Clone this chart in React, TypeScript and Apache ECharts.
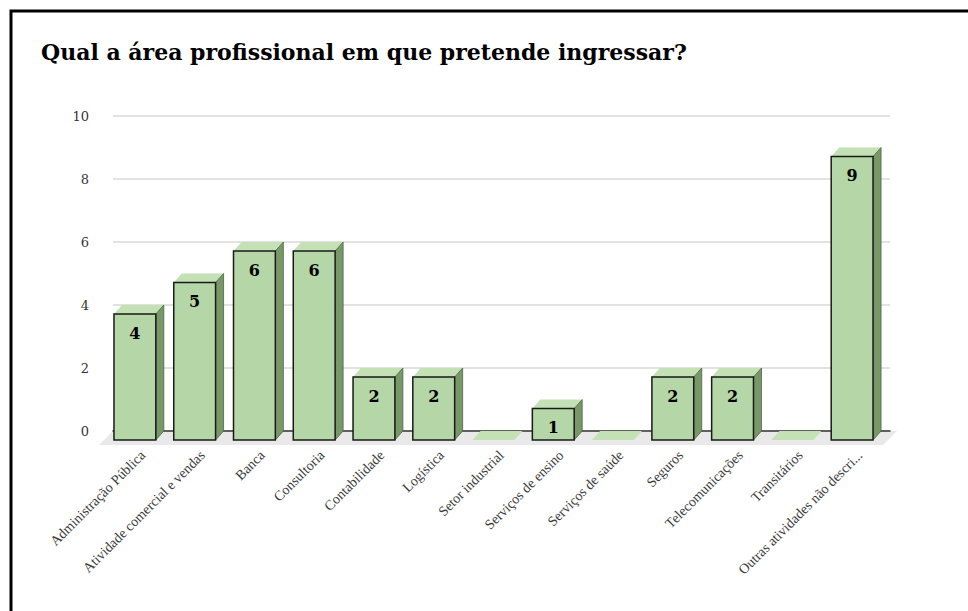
import React, { useEffect, useRef } from "react";
import * as echarts from "echarts";

const TITLE = "Qual a área profissional em que pretende ingressar?";
const categories = [
  "Administração Pública",
  "Atividade comercial e vendas",
  "Banca",
  "Consultoria",
  "Contabilidade",
  "Logística",
  "Setor industrial",
  "Serviços de ensino",
  "Serviços de saúde",
  "Seguros",
  "Telecomunicações",
  "Transitários",
  "Outras atividades não descri...",
];
const values = [4, 5, 6, 6, 2, 2, 0, 1, 0, 2, 2, 0, 9];
const yTicks = { min: 0, max: 10, interval: 2 };

const FRONT = "#b5d6a6";
const TOP = "#c4e0b5";
const SIDE = "#789868";
const SERIF = "'DejaVu Serif', Georgia, serif";
const TIMES = "'Liberation Serif', 'Times New Roman', serif";

export default function App() {
  const ref = useRef<HTMLDivElement>(null);
  useEffect(() => {
    if (!ref.current) return;
    const chart = echarts.init(ref.current, undefined, { renderer: "svg" });
    const DX = 8;
    const DY = 9;
    const option: any = {
      animation: false,
      backgroundColor: "#ffffff",
      title: {
        text: TITLE,
        left: 36,
        top: 36,
        textStyle: { fontFamily: SERIF, fontWeight: "bold", fontSize: 22, color: "#000" },
      },
      graphic: [
        {
          type: "rect",
          shape: { x: 11, y: 11, width: 1200, height: 1200 },
          style: { fill: "none", stroke: "#000", lineWidth: 3 },
          silent: true,
          z: 100,
        },
      ],
      grid: { left: 113, right: 78, top: 116, bottom: 180, containLabel: false },
      xAxis: {
        type: "category",
        data: categories,
        axisTick: { show: false },
        axisLine: { show: true, lineStyle: { color: "#333", width: 1.5 } },
        axisLabel: {
          interval: 0,
          rotate: 45,
          margin: 22,
          fontFamily: TIMES,
          fontSize: 14,
          color: "#3a3a3a",
        },
        z: 1,
      },
      yAxis: {
        type: "value",
        min: yTicks.min,
        max: yTicks.max,
        interval: yTicks.interval,
        axisLine: { show: false },
        axisTick: { show: false },
        axisLabel: { margin: 24, fontFamily: SERIF, fontSize: 13, color: "#333" },
        splitLine: { lineStyle: { color: "#d9d9d9", width: 1.5 } },
      },
      series: [
        {
          type: "custom",
          z: 0,
          silent: true,
          data: [[0, 0]],
          renderItem: (params: any, api: any) => {
            const bw = api.size([1, 0])[0];
            const p0 = api.coord([0, 0]);
            const pN = api.coord([categories.length - 1, 0]);
            const xl = p0[0] - bw / 2;
            const xr = pN[0] + bw / 2 + 7;
            const y = p0[1];
            return {
              type: "polygon",
              shape: {
                points: [
                  [xl, y],
                  [xr, y],
                  [xr - 14, y + 14],
                  [xl - 14, y + 14],
                ],
              },
              style: { fill: "#e9e9e9" },
            };
          },
        },
        {
          type: "custom",
          z: 3,
          data: values.map((v, i) => [i, v]),
          renderItem: (params: any, api: any) => {
            const i = api.value(0);
            const v = api.value(1);
            const top = api.coord([i, v]);
            const base = api.coord([i, 0]);
            const bw = api.size([1, 0])[0];
            const w = bw * 0.7;
            const cx = top[0] - DX;
            const x1 = cx - w / 2;
            const x2 = cx + w / 2;
            const fTop = top[1] + DY;
            const fBot = base[1] + DY;
            const children: any[] = [];
            children.push({
              type: "polygon",
              shape: { points: [[x1, fTop], [x1 + DX, fTop - DY], [x2 + DX, fTop - DY], [x2, fTop]] },
              style: { fill: TOP },
            });
            if (v > 0) {
              children.push({
                type: "polygon",
                shape: { points: [[x2, fTop], [x2 + DX, fTop - DY], [x2 + DX, fBot - DY], [x2, fBot]] },
                style: { fill: SIDE, stroke: "#4d6342", lineWidth: 0.8 },
              });
              children.push({
                type: "rect",
                shape: { x: x1, y: fTop, width: w, height: fBot - fTop },
                style: { fill: FRONT, stroke: "#1a1a1a", lineWidth: 1.5 },
              });
              children.push({
                type: "text",
                style: {
                  text: String(v),
                  x: cx,
                  y: fTop + 19,
                  align: "center",
                  verticalAlign: "middle",
                  font: `bold 16px ${SERIF}`,
                  fill: "#000",
                },
              });
            }
            return { type: "group", children };
          },
        },
      ],
    };
    chart.setOption(option);
    return () => chart.dispose();
  }, []);
  return (
    <div
      ref={ref}
      style={{ position: "absolute", left: 0, top: 0, width: 968, height: 611 }}
    />
  );
}
